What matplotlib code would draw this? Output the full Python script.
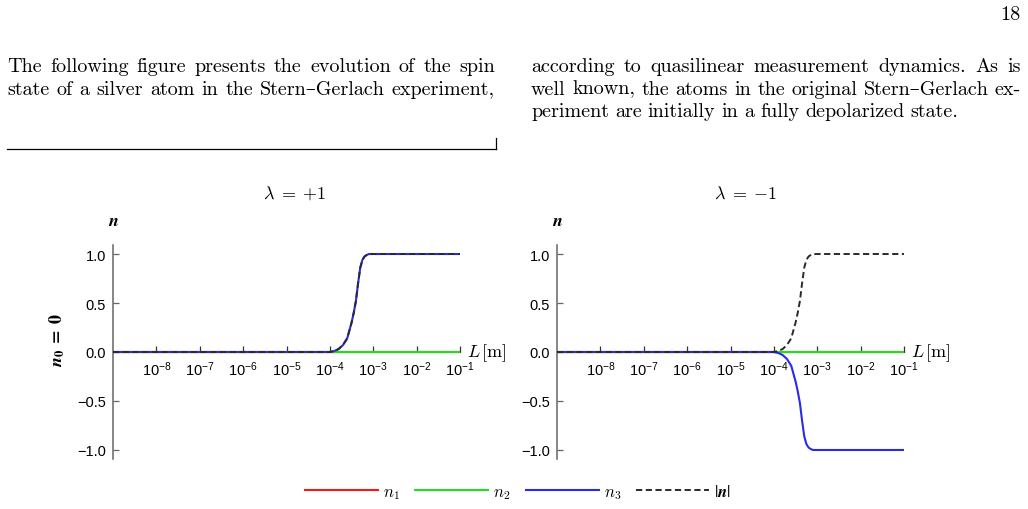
import numpy as np
import matplotlib
matplotlib.use("Agg")
import matplotlib.pyplot as plt
from matplotlib.ticker import NullLocator

plt.rcParams['font.family'] = ['Liberation Sans', 'DejaVu Sans']
plt.rcParams['mathtext.fontset'] = 'cm'

W, H = 1028, 510

# curve: |n| (and n3 for lambda=+1) against L in metres
L_exp = [-9.0, -5.0, -4.0, -3.9, -3.8, -3.7, -3.6, -3.5, -3.45, -3.4, -3.35,
         -3.3, -3.25, -3.2, -3.15, -3.1, -2.0, -1.0]
n_abs = [0.0, 0.0, 0.0, 0.01, 0.03, 0.07, 0.14, 0.30, 0.40, 0.52, 0.70,
         0.86, 0.94, 0.975, 0.99, 1.0, 1.0, 1.0]
n3_plus = n_abs
n3_minus = [-v for v in n_abs]
L_m = np.power(10.0, L_exp)

# n1, n2 stay at zero over the whole range
L_flat = [1e-9, 1e-1]
n1 = [0.0, 0.0]
n2 = [0.0, 0.0]

lambdas = ['+1', '-1']
n3_series = [n3_plus, n3_minus]
xticks = [1e-8, 1e-7, 1e-6, 1e-5, 1e-4, 1e-3, 1e-2, 1e-1]
yticks = [-1.0, -0.5, 0.0, 0.5, 1.0]

col_red, col_green, col_blue, col_dash = '#f01818', '#22dd22', '#2a2aee', '#2a2a2a'

left_par = [
    "The following figure presents the evolution of the spin",
    "state of a silver atom in the Stern\u2013Gerlach experiment,",
]
right_par = [
    "according to quasilinear measurement dynamics.  As is",
    "well known, the atoms in the original Stern\u2013Gerlach ex-",
    "periment are initially in a fully depolarized state.",
]

fig = plt.figure(figsize=(W / 100, H / 100), dpi=100)
renderer = fig.canvas.get_renderer()
serif = ['cmr10', 'DejaVu Serif']
fs_body = 14.5


def fx(px):
    return px / W


def fy(py):
    return 1 - py / H


def put_line(text, x0, x1, y, justify=True):
    words = text.split()
    ts = [fig.text(0, fy(y), w, family=serif, fontsize=fs_body, va='baseline')
          for w in words]
    widths = [t.get_window_extent(renderer).width for t in ts]
    if justify and len(ts) > 1:
        gap = (x1 - x0 - sum(widths)) / (len(ts) - 1)
    else:
        gap = 0.3 * fs_body * 100 / 72
    x = x0
    for t, w in zip(ts, widths):
        t.set_x(fx(x))
        x += w + gap


# page text
fig.text(fx(1021), fy(19.5), "18", family=serif, fontsize=fs_body, ha='right', va='baseline')
for i, line in enumerate(left_par):
    put_line(line, 7, 495, 72 + 22.6 * i)
for i, line in enumerate(right_par):
    put_line(line, 531, 1021, 72 + 22.6 * i, justify=(i < len(right_par) - 1))

# rule with small tick at right end
fig.add_artist(plt.Line2D([fx(7), fx(496)], [fy(150), fy(150)], color='black', lw=0.9))
fig.add_artist(plt.Line2D([fx(496), fx(496)], [fy(150), fy(138.5)], color='black', lw=0.9))

lines = []
for k, (lam, n3) in enumerate(zip(lambdas, n3_series)):
    x_left = 113 if k == 0 else 557
    ax = fig.add_axes([fx(x_left), fy(460), 347 / W, 214 / H])
    l1, = ax.plot(L_flat, n1, color=col_red, lw=1.5, zorder=3)
    l2, = ax.plot(L_flat, n2, color=col_green, lw=1.5, zorder=3)
    l3, = ax.plot(L_m, n3, color=col_blue, lw=1.5, zorder=3)
    l4, = ax.plot(L_m, n_abs, color=col_dash, lw=1.4, dashes=(3.2, 1.8), zorder=3)
    lines = [l1, l2, l3, l4]
    ax.set_xscale('log')
    ax.set_xlim(1e-9, 1e-1)
    ax.set_ylim(-1.092, 1.092)
    ax.set_xticks(xticks)
    ax.xaxis.set_minor_locator(NullLocator())
    ax.set_yticks(yticks)
    ax.set_yticklabels(['\u22121.0', '\u22120.5', '0.0', '0.5', '1.0'])
    ax.set_yticks([-1.0, 1.0], minor=True)
    ax.yaxis.grid(True, which='minor', color='#dcdcdc', lw=1.0)
    ax.set_axisbelow(True)
    for s in ['top', 'right']:
        ax.spines[s].set_visible(False)
    ax.spines['bottom'].set_position(('data', 0))
    ax.spines['bottom'].set_color('#444444')
    ax.spines['left'].set_color('#666666')
    ax.spines['left'].set_linewidth(1.1)
    ax.tick_params(axis='x', direction='in', length=4, width=0.9, color='#333333',
                   labelsize=10.5, pad=5)
    ax.tick_params(axis='y', direction='in', length=4, width=0.9, color='#666666',
                   labelsize=10.5, pad=5)
    ax.tick_params(axis='y', which='minor', length=0)
    ax.text(1.02, 0.0, r'$L\,[\mathrm{m}]$', transform=ax.get_yaxis_transform(),
            fontsize=13, ha='left', va='center')
    # panel title and n label
    tx = 295 if k == 0 else 746
    fig.text(fx(tx), fy(194), r'$\lambda\;=\;{%s}$' % lam, fontsize=13,
             ha='center', va='center')
    fig.text(fx(x_left), fy(222), r'$\mathbfit{n}$', math_fontfamily='stix',
             fontsize=13, ha='center', va='center')

fig.text(fx(57), fy(340), r'$\mathbfit{n}_\mathbf{0}\;\mathbf{=\;0}$', math_fontfamily='stix',
         fontsize=13, rotation=90, ha='center', va='center')

leg = fig.legend(lines, [r'$n_1$', r'$n_2$', r'$n_3$', r'$|\mathbfit{n}|$'],
                 loc='center', bbox_to_anchor=(fx(518), fy(493)), ncol=4, frameon=False,
                 fontsize=12, handlelength=4.4, handletextpad=0.3, columnspacing=0.9)
leg.get_texts()[3].set_math_fontfamily('stix')

fig.savefig('out.png', dpi=100)
